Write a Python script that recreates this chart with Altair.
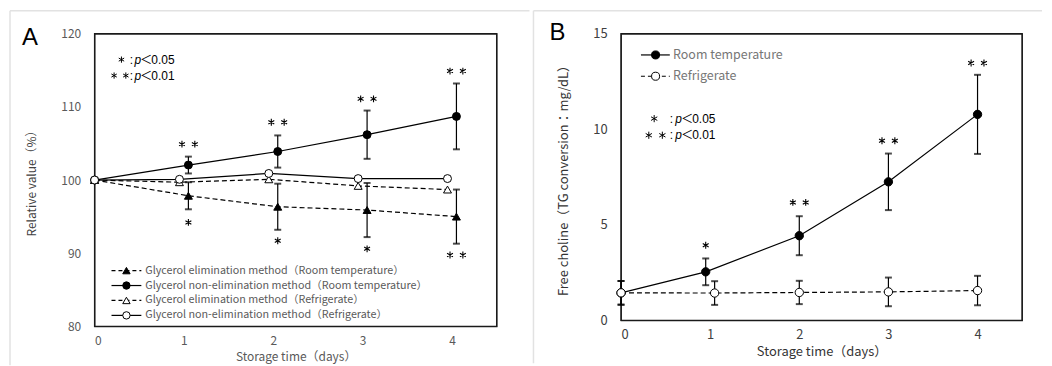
import altair as alt
import pandas as pd

FONT = "Noto Sans CJK JP"
LATIN = "Liberation Sans"

# ---------------- data ----------------
days = [0, 1, 2, 3, 4]
x_ticks = [0, 1, 2, 3, 4]

# Panel A : relative value (%)
a_labels = [
    "Glycerol elimination method（Room temperature）",
    "Glycerol non-elimination method（Room temperature）",
    "Glycerol elimination method（Refrigerate）",
    "Glycerol non-elimination method（Refrigerate）",
]
a_elim_rt = [100, 97.85, 96.35, 95.9, 95.0]
a_elim_rt_err = [0, 1.85, 3.15, 3.7, 3.7]
a_nonelim_rt = [100, 102.05, 103.9, 106.2, 108.7]
a_nonelim_rt_err = [0, 1.15, 2.2, 3.3, 4.5]
a_elim_ref = [100, 99.7, 100.1, 99.2, 98.7]
a_nonelim_ref = [100, 100.1, 100.9, 100.2, 100.2]
a_sig_day = [1, 2, 3, 4, 1, 2, 3, 4]
a_sig_val = [104.9, 107.9, 111.1, 114.9, 94.2, 91.7, 90.6, 89.75]
a_sig_text = ["＊＊", "＊＊", "＊＊", "＊＊", "＊", "＊", "＊", "＊＊"]
a_y_ticks = [80, 90, 100, 110, 120]

# Panel B : free choline (TG conversion, mg/dL)
b_labels = ["Room temperature", "Refrigerate"]
b_rt = [1.44, 2.54, 4.43, 7.25, 10.78]
b_rt_err = [0.62, 0.7, 1.02, 1.48, 2.07]
b_ref = [1.44, 1.43, 1.46, 1.49, 1.56]
b_ref_err = [0.62, 0.62, 0.61, 0.75, 0.77]
b_sig_day = [1, 2, 3, 4]
b_sig_val = [3.93, 6.17, 9.4, 13.47]
b_sig_text = ["＊", "＊＊", "＊＊", "＊＊"]
b_y_ticks = [0, 5, 10, 15]

# ---------------- styles ----------------
SHIFT_RT_A = [0, 0.05, 0.05, 0.05, 0.05]
SHIFT_REF_A = [0, -0.05, -0.05, -0.05, -0.05]
SHIFT_RT_B = [0, -0.05, 0, 0, 0]
SHIFT_REF_B = [0, 0.05, 0, 0, 0]
ONE = alt.Data(values=[{"k": 0}])
DASH = [5, 3]


def ast_path(centers, r=0.36):
    parts = []
    for c in centers:
        parts.append(f"M{c:.3f},{-r:.3f}L{c:.3f},{r:.3f}")
        parts.append(f"M{c - 0.866 * r:.3f},{-0.5 * r:.3f}L{c + 0.866 * r:.3f},{0.5 * r:.3f}")
        parts.append(f"M{c - 0.866 * r:.3f},{0.5 * r:.3f}L{c + 0.866 * r:.3f},{-0.5 * r:.3f}")
    return "".join(parts)


AST_SHAPE = {"＊": ast_path([0]), "＊＊": ast_path([-0.68, 0.68])}
AST_SIZE = 361


def make_enc(domain, ticks, labelpad, title, titlepad, fs, labcol, titcol, orient):
    ax = alt.Axis(values=ticks, ticks=False, domain=False, grid=False,
                  labelPadding=labelpad, labelFontSize=fs, labelColor=labcol,
                  labelFont=FONT, title=title, titleFont=FONT, titleFontSize=fs,
                  titleColor=titcol, titleFontWeight="normal", titlePadding=titlepad)
    sc = alt.Scale(domain=domain, nice=False, zero=False)
    if orient == "x":
        return lambda f: alt.X(f + ":Q", scale=sc, axis=ax)
    return lambda f: alt.Y(f + ":Q", scale=sc, axis=ax)


def series(values, err, shift, shape, filled, dashed, X, Y, size):
    layers = []
    df = pd.DataFrame({"day": days, "v": values, "shift": shift})
    base = alt.Chart(df).transform_calculate(x="datum.day + datum.shift")
    lk = dict(color="black", strokeWidth=1.2)
    if dashed:
        lk["strokeDash"] = DASH
    layers.append(base.mark_line(**lk).encode(x=X("x"), y=Y("v")))
    if err is not None:
        de = pd.DataFrame({"day": days, "shift": shift, "e": err,
                           "lo": [v - e for v, e in zip(values, err)],
                           "hi": [v + e for v, e in zip(values, err)]})
        eb = alt.Chart(de).transform_filter("datum.e > 0").transform_calculate(
            x="datum.day + datum.shift")
        layers.append(eb.mark_rule(color="black", strokeWidth=1.2).encode(
            x=X("x"), y=Y("lo"), y2=alt.Y2("hi")))
        for f in ["lo", "hi"]:
            layers.append(eb.mark_tick(orient="horizontal", color="black", size=7,
                                       thickness=2).encode(x=X("x"), y=Y(f)))
    pts = base.mark_point(shape=shape, size=size, filled=True,
                          fill="black" if filled else "white", stroke="black",
                          strokeWidth=1, opacity=1)
    return layers, pts.encode(x=X("x"), y=Y("v"))


def sig_marks(sig_day, sig_val, sig_text, shift, X, Y):
    df = pd.DataFrame({"day": sig_day, "v": sig_val, "t": sig_text,
                       "shift": shift, "shape": [AST_SHAPE[t] for t in sig_text]})
    return alt.Chart(df).transform_calculate(x="datum.day + datum.shift").mark_point(
        filled=False, color="black", strokeWidth=1.1, size=AST_SIZE, opacity=1
    ).encode(x=X("x"), y=Y("v"), shape=alt.Shape("shape:N", scale=None, legend=None))


def legend_row(label, y, x0, x1, xm, xt, shape, filled, dashed, size, fs, col):
    lk = dict(color="black", strokeWidth=1.2)
    if dashed:
        lk["strokeDash"] = [4, 3]
    out = [
        alt.Chart(ONE).mark_rule(**lk).encode(x=alt.value(x0), x2=alt.value(x1), y=alt.value(y)),
        alt.Chart(ONE).mark_point(shape=shape, size=size, filled=True,
                                  fill="black" if filled else "white", stroke="black",
                                  strokeWidth=1, opacity=1).encode(x=alt.value(xm), y=alt.value(y)),
        alt.Chart(ONE).mark_text(align="left", baseline="middle", font=FONT, fontSize=fs,
                                 color=col).encode(x=alt.value(xt), y=alt.value(y),
                                                   text=alt.value(label)),
    ]
    return out


def sig_legend(xa1, xa2, xc, xp, y1, y2, asz):
    out = []
    for y, t, xa in [(y1, "＊", xa1), (y2, "＊＊", xa2)]:
        out.append(alt.Chart(ONE).mark_point(filled=False, color="black", strokeWidth=1.0,
                                             size=asz, opacity=1, shape=AST_SHAPE[t]).encode(
            x=alt.value(xa), y=alt.value(y)))
        out.append(alt.Chart(ONE).mark_text(align="center", baseline="middle", font=LATIN,
                                            fontSize=12, color="black").encode(
            x=alt.value(xc), y=alt.value(y), text=alt.value(":")))
        out.append(alt.Chart(ONE).mark_text(align="left", baseline="middle", font=LATIN,
                                            fontStyle="italic", fontSize=12, color="black").encode(
            x=alt.value(xp), y=alt.value(y), text=alt.value("p")))
        out.append(alt.Chart(ONE).mark_text(align="left", baseline="middle", font=FONT,
                                            fontSize=12, color="black").encode(
            x=alt.value(xp + 6), y=alt.value(y), text=alt.value("＜")))
        out.append(alt.Chart(ONE).mark_text(align="left", baseline="middle", font=LATIN,
                                            fontSize=12, color="black").encode(
            x=alt.value(xp + 17), y=alt.value(y), text=alt.value("0.05" if t == "＊" else "0.01")))
    return out


def frame(x0, x1, y0, y1, w, h):
    c = "#e2e2e2"
    return [
        alt.Chart(ONE).mark_rule(color=c, strokeWidth=1.5).encode(
            x=alt.value(x0), x2=alt.value(x1), y=alt.value(y0)),
        alt.Chart(ONE).mark_rule(color=c, strokeWidth=1.5).encode(
            x=alt.value(x0), y=alt.value(y0), y2=alt.value(y1)),
        alt.Chart(ONE).mark_rect(fill="white", fillOpacity=0, stroke="#1a1a1a",
                                 strokeWidth=1.3).encode(
            x=alt.value(0), x2=alt.value(w), y=alt.value(0), y2=alt.value(h)),
    ]


def panel_letter(t, x, y):
    return alt.Chart(ONE).mark_text(align="center", baseline="middle", font=LATIN,
                                    fontSize=24, color="black").encode(
        x=alt.value(x), y=alt.value(y), text=alt.value(t))


# ---------------- panel A ----------------
WA, HA = 404, 294
XA = make_enc([0, 4.5], x_ticks, 9, "Storage time（days）", 5, 12, "#595959", "#595959", "x")
YA = make_enc([80, 120], a_y_ticks, 14, "Relative value（%）", 22, 12, "#595959", "#404040", "y")

a_specs = [
    (a_elim_rt, a_elim_rt_err, SHIFT_RT_A, "triangle-up", True, True),
    (a_nonelim_rt, a_nonelim_rt_err, SHIFT_RT_A, "circle", True, False),
    (a_elim_ref, None, SHIFT_REF_A, "triangle-up", False, True),
    (a_nonelim_ref, None, SHIFT_REF_A, "circle", False, False),
]
a_lines, a_pts = [], []
for vals, err, sh, shp, fil, dsh in a_specs:
    l, p = series(vals, err, sh, shp, fil, dsh, XA, YA, 64)
    a_lines += l
    a_pts.append(p)

sig_a = sig_marks(a_sig_day, a_sig_val, a_sig_text, [0.05] * len(a_sig_day), XA, YA)

a_leg = []
for i, (lab, spec) in enumerate(zip(a_labels, a_specs)):
    a_leg += legend_row(lab, 238 + 15 * i, 17, 47, 32, 51, spec[3], spec[4], spec[5], 55,
                        10.8, "#595959")

panelA = alt.layer(
    *frame(-85, 437, -23, 333, WA, HA),
    *a_lines, *a_pts, sig_a, *a_leg,
    *sig_legend(27, 25.5, 37, 40, 26, 42, 300),
    panel_letter("A", -65, 4),
).properties(width=WA, height=HA)

# ---------------- panel B ----------------
WB, HB = 403, 288
XB = make_enc([0, 4.5], x_ticks, 8, "Storage time（days）", 4, 13, "#404040", "#333333", "x")
YB = make_enc([0, 15], b_y_ticks, 14, "Free choline（TG conversion：mg/dL）", 22, 13, "#404040",
              "#333333", "y")

b_specs = [
    (b_rt, b_rt_err, SHIFT_RT_B, "circle", True, False),
    (b_ref, b_ref_err, SHIFT_REF_B, "circle", False, True),
]
b_lines, b_pts = [], []
for vals, err, sh, shp, fil, dsh in b_specs:
    l, p = series(vals, err, sh, shp, fil, dsh, XB, YB, 70)
    b_lines += l
    b_pts.append(p)

sig_b = sig_marks(b_sig_day, b_sig_val, b_sig_text, [SHIFT_RT_B[d] for d in b_sig_day], XB, YB)

b_leg = []
for i, (lab, spec) in enumerate(zip(b_labels, b_specs)):
    b_leg += legend_row(lab, 21.3 + 21.4 * i, 20, 49, 34.7, 52.3, spec[3], spec[4], spec[5], 65,
                        12.5, "#767676")

panelB = alt.layer(
    *frame(-88, 423, -23, 331, WB, HB),
    *b_lines, *b_pts, sig_b, *b_leg,
    *sig_legend(33.3, 34.7, 50.5, 54.5, 85.3, 102, 400),
    panel_letter("B", -64, -1),
).properties(width=WB, height=HB)

chart = alt.hconcat(panelA, panelB, spacing=0).properties(
    padding=0, background="white"
).configure(
    font=FONT, view=alt.ViewConfig(stroke="#222222", strokeWidth=1.3)
)

chart.save("out.html", embed_options={"renderer": "svg", "actions": False})
